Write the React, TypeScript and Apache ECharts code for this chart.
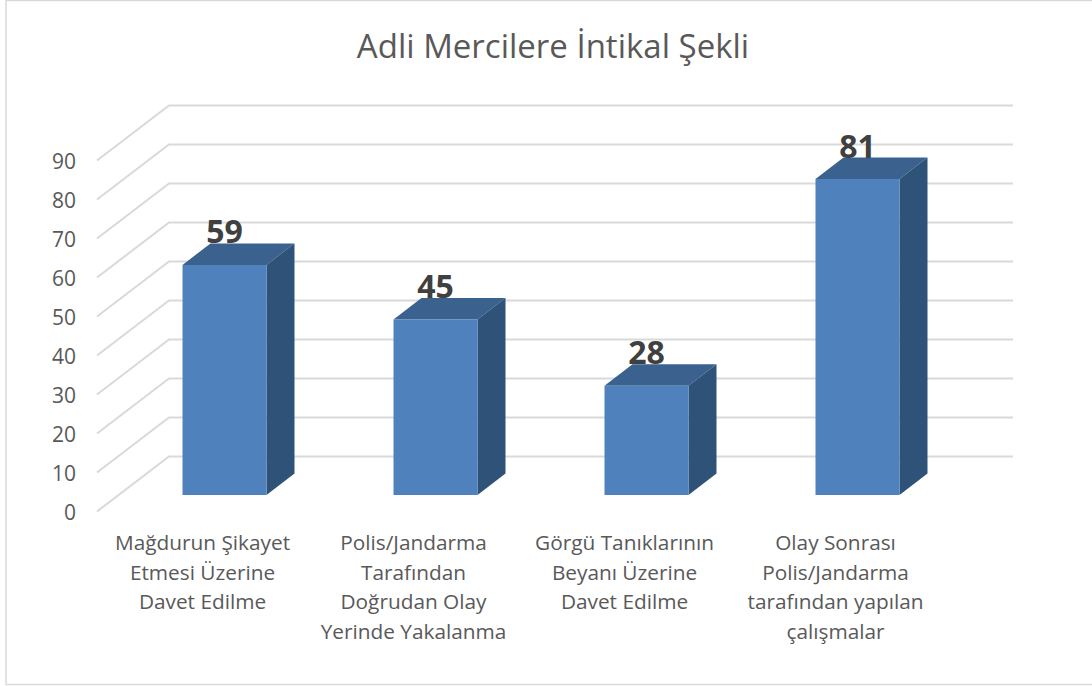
import React, { useEffect, useRef } from "react";
import * as echarts from "echarts";

const title = "Adli Mercilere İntikal Şekli";
const categories = [
  "Mağdurun Şikayet\nEtmesi Üzerine\nDavet Edilme",
  "Polis/Jandarma\nTarafından\nDoğrudan Olay\nYerinde Yakalanma",
  "Görgü Tanıklarının\nBeyanı Üzerine\nDavet Edilme",
  "Olay Sonrası\nPolis/Jandarma\ntarafından yapılan\nçalışmalar",
];
const values = [59, 45, 28, 81];
const wallTicks = [0, 10, 20, 30, 40, 50, 60, 70, 80, 90];

const FONT = "Open Sans";
const WALL = { dx: 72, dy: -55 };
const BAR = { ox: 22, oy: -16.5, width: 84, dx: 28, dy: -21.5 };
const FRONT = "#4F81BD";
const TOP = "#3B618F";
const SIDE = "#2F5278";
const GRID = "#D9D9D9";

export default function App() {
  const ref = useRef<HTMLDivElement>(null);
  useEffect(() => {
    document.body.style.margin = "0";
    document.body.style.overflow = "hidden";
    const chart = echarts.init(ref.current!, undefined, { renderer: "svg" });
    chart.setOption({
      animation: false,
      backgroundColor: "#FFFFFF",
      title: {
        text: title,
        left: 548,
        top: 24,
        textAlign: "center",
        textStyle: { fontFamily: FONT, fontSize: 33, fontWeight: 400, color: "#595959" },
      },
      graphic: [
        {
          type: "rect",
          z: -10,
          shape: { x: 6, y: 0.5, width: 1100, height: 684 },
          style: { fill: "none", stroke: GRID, lineWidth: 1.5 },
        },
      ],
      grid: { left: 97, width: 844, top: 160.5, height: 351 },
      xAxis: {
        type: "category",
        data: categories,
        axisLine: { show: false },
        axisTick: { show: false },
        axisLabel: {
          fontFamily: FONT,
          fontSize: 20.8,
          color: "#595959",
          lineHeight: 29.5,
          margin: 16,
          interval: 0,
          align: "center",
          verticalAlign: "top",
        },
      },
      yAxis: {
        type: "value",
        min: 0,
        max: 90,
        interval: 10,
        axisLine: { show: false },
        axisTick: { show: false },
        splitLine: { show: false },
        axisLabel: { fontFamily: FONT, fontSize: 21, color: "#595959", margin: 21 },
      },
      series: [
        {
          type: "custom",
          silent: true,
          z: 1,
          data: wallTicks.map((t) => [0, t]),
          renderItem: (params: any, api: any) => {
            const y = api.coord([0, api.value(1)])[1];
            const x0 = params.coordSys.x;
            const w = params.coordSys.width;
            const lineStyle = { stroke: GRID, lineWidth: 2, fill: "none" };
            return {
              type: "polyline",
              shape: {
                points: [
                  [x0, y],
                  [x0 + WALL.dx, y + WALL.dy],
                  [x0 + w + WALL.dx, y + WALL.dy],
                ],
              },
              style: lineStyle,
            };
          },
        },
        {
          type: "custom",
          silent: true,
          z: 2,
          data: values.map((v, i) => [i, v]),
          renderItem: (_: any, api: any) => {
            const v = api.value(1);
            const [cx, ty] = api.coord([api.value(0), v]);
            const by = api.coord([api.value(0), 0])[1];
            const l = cx + BAR.ox - BAR.width / 2;
            const r = l + BAR.width;
            const t = ty + BAR.oy;
            const b = by + BAR.oy;
            return {
              type: "group",
              children: [
                {
                  type: "polygon",
                  shape: { points: [[l, t], [r, t], [r + BAR.dx, t + BAR.dy], [l + BAR.dx, t + BAR.dy]] },
                  style: { fill: TOP },
                },
                {
                  type: "polygon",
                  shape: { points: [[r, t], [r + BAR.dx, t + BAR.dy], [r + BAR.dx, b + BAR.dy], [r, b]] },
                  style: { fill: SIDE },
                },
                { type: "rect", shape: { x: l, y: t, width: BAR.width, height: b - t }, style: { fill: FRONT } },
                {
                  type: "text",
                  style: {
                    text: String(v),
                    x: (l + r) / 2,
                    y: t - 34,
                    align: "center",
                    verticalAlign: "middle",
                    fontFamily: FONT,
                    fontWeight: "bold",
                    fontSize: 32,
                    fill: "#404040",
                  },
                },
              ],
            };
          },
        },
      ],
    });
    return () => chart.dispose();
  }, []);
  return <div ref={ref} style={{ position: "absolute", left: 0, top: 0, width: 1092, height: 686 }} />;
}
